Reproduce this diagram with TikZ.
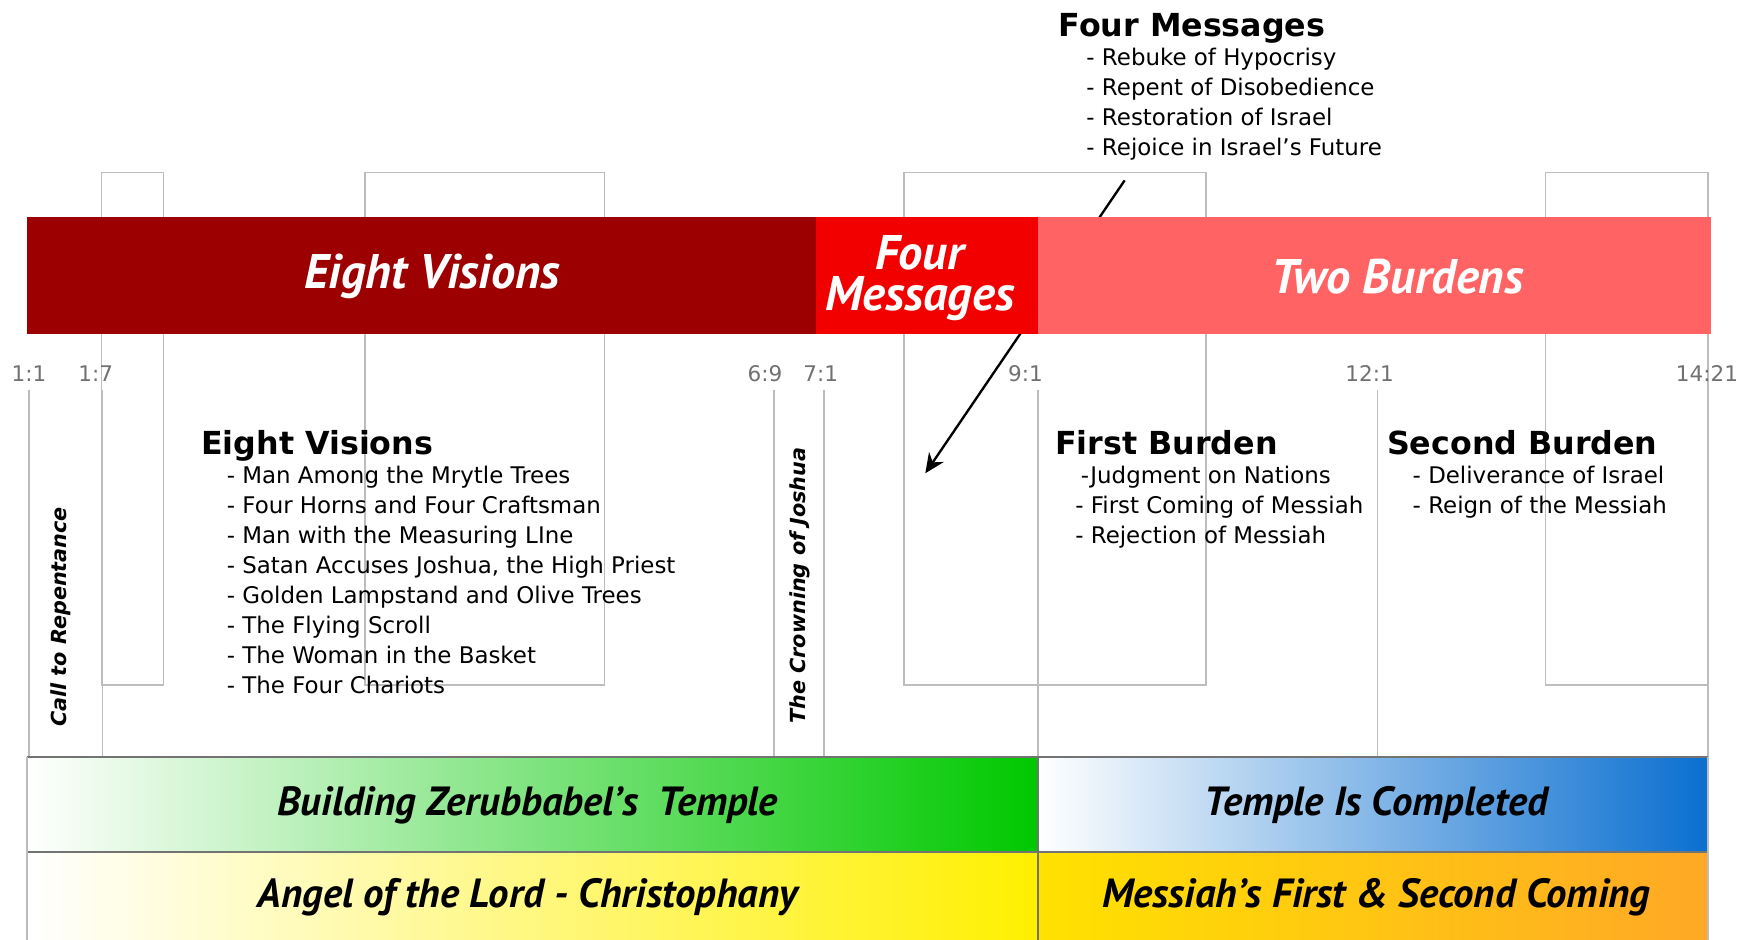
\documentclass[tikz,border=0pt]{standalone}
\usepackage{fontspec}
\setmainfont{DejaVu Sans}
\newfontfamily\bandfont{PT Sans}
\usetikzlibrary{arrows.meta}

\definecolor{visionred}{HTML}{9C0000}
\definecolor{messagered}{HTML}{F20000}
\definecolor{burdenred}{HTML}{FF6363}
\definecolor{gridgray}{HTML}{BDBDBD}
\definecolor{tickgray}{HTML}{707070}
\definecolor{templegreen}{HTML}{00C800}
\definecolor{templeblue}{HTML}{0A6FD0}
\definecolor{angelyellow}{HTML}{FFF000}
\definecolor{comingyellow}{HTML}{FFE200}
\definecolor{comingorange}{HTML}{FFA826}

\tikzset{
  bandtitle/.style={text=white, align=center, inner sep=0pt,
    font=\bandfont\bfseries\itshape\fontsize{12.4}{10.4}\selectfont},
  rowtitle/.style={text=black, inner sep=0pt,
    font=\bandfont\bfseries\itshape\fontsize{10.4}{11}\selectfont},
  heading/.style={anchor=base west, inner sep=0pt, font=\bfseries\fontsize{8.1}{9}\selectfont},
  item/.style={anchor=base west, inner sep=0pt, font=\fontsize{5.85}{6.5}\selectfont},
  tick/.style={anchor=base, inner sep=0pt, text=tickgray, font=\fontsize{5.5}{6}\selectfont},
  sidenote/.style={rotate=90, inner sep=0pt, font=\bfseries\itshape\fontsize{5.3}{6}\selectfont},
  grid/.style={draw=gridgray, line width=0.4pt},
  rowline/.style={draw=black!55, line width=0.5pt},
}

\begin{document}
\begin{tikzpicture}[x=0.01cm, y=-0.01cm]
  \useasboundingbox (0,0) rectangle (1568,844);
  % column boxes
  \draw[grid] (91,155) rectangle (147,615);
  \draw[grid] (328,155) rectangle (543,615);
  \draw[grid] (812,155) rectangle (1083,615);
  \draw[grid] (1388,155) rectangle (1534,615);
  % verse lines
  \foreach \x in {26,92,695,740,932,1237,1534}
    \draw[grid] (\x,350) -- (\x,680);
  % verse labels
  \node[tick] (v1) at (26,343) {1:1};
  \node[tick] (v2) at (86,343) {1:7};
  \node[tick] (v3) at (687,343) {6:9};
  \node[tick] (v4) at (737,343) {7:1};
  \node[tick] (v5) at (921,343) {9:1};
  \node[tick] (v6) at (1230,343) {12:1};
  \node[tick] (v7) at (1533,343) {14:21};
  % pointer to the four messages
  \coordinate (fm-tail) at (1010,162);
  \coordinate (fm-tip) at (831,425);
  \draw[line width=0.6pt, -{Stealth[length=5pt, width=4.5pt]}] (fm-tail) -- (fm-tip);
  % top band
  \fill[visionred] (24,195) rectangle (733,300);
  \fill[messagered] (733,195) rectangle (932,300);
  \fill[burdenred] (932,195) rectangle (1537,300);
  \node[bandtitle] (visions) at (388,248) {Eight Visions};
  \node[bandtitle] (messages) at (826,250) {Four\\Messages};
  \node[bandtitle] (burdens) at (1255,248) {Two Burdens};
  % four messages
  \node[heading] (fm) at (950,33) {Four Messages};
  \foreach \txt [count=\i] in {Rebuke of Hypocrisy, Repent of Disobedience,
      Restoration of Israel, Rejoice in Israel's Future}
    \node[item] (fm\i) at (975,32+27*\i) {- \txt};
  % eight visions
  \node[heading] (ev) at (180,408) {Eight Visions};
  \foreach \txt [count=\i] in {Man Among the Mrytle Trees, Four Horns and Four Craftsman,
      Man with the Measuring LIne, {Satan Accuses Joshua, the High Priest},
      Golden Lampstand and Olive Trees, The Flying Scroll,
      The Woman in the Basket, The Four Chariots}
    \node[item] (ev\i) at (203,407+27*\i) {- \txt};
  % two burdens
  \node[heading] (fb) at (947,408) {First Burden};
  \node[item] (fb1) at (970,434) {-Judgment on Nations};
  \node[item] (fb2) at (965,461) {- First Coming of Messiah};
  \node[item] (fb3) at (965,488) {- Rejection of Messiah};
  \node[heading] (sb) at (1245,408) {Second Burden};
  \node[item] (sb1) at (1268,434) {- Deliverance of Israel};
  \node[item] (sb2) at (1268,461) {- Reign of the Messiah};
  % side notes
  \node[sidenote] (call) at (55,554) {Call to Repentance};
  \node[sidenote] (crown) at (718,526) {The Crowning of Joshua};
  % lower bands
  \shade[left color=white, right color=templegreen] (24,680) rectangle (932,765);
  \shade[left color=white, right color=templeblue] (932,680) rectangle (1534,765);
  \shade[left color=white, right color=angelyellow] (24,765) rectangle (932,844);
  \shade[left color=comingyellow, right color=comingorange] (932,765) rectangle (1534,844);
  \draw[rowline] (24,680) -- (1534,680);
  \draw[rowline] (24,765) -- (1534,765);
  \draw[grid] (24,680) -- (24,844);
  \draw[rowline] (932,680) -- (932,844);
  \draw[grid] (1534,680) -- (1534,844);
  \node[rowtitle] (build) at (474,723) {Building Zerubbabel’s\ \ Temple};
  \node[rowtitle] (done) at (1236,723) {Temple Is Completed};
  \node[rowtitle] (angel) at (474,806) {Angel of the Lord - Christophany};
  \node[rowtitle] (coming) at (1236,806) {Messiah’s First \& Second Coming};
\end{tikzpicture}
\end{document}
